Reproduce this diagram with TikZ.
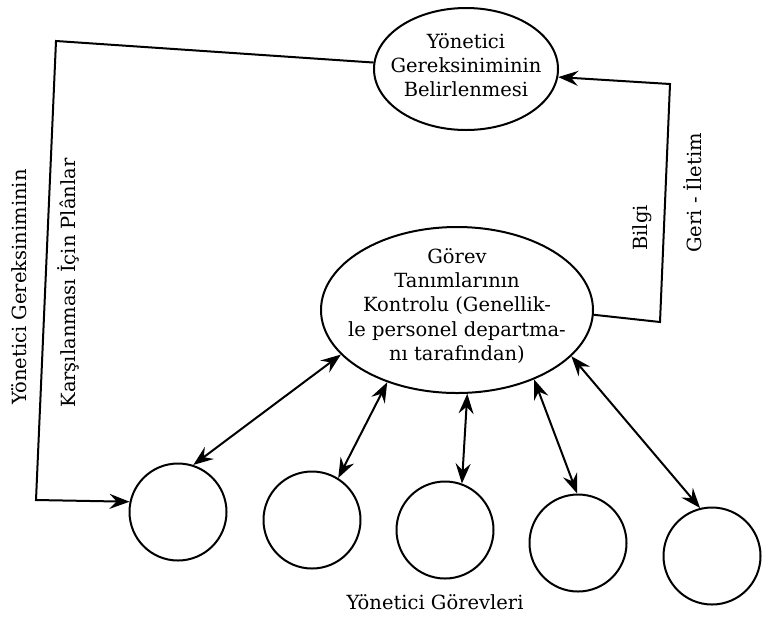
\documentclass[tikz,border=0pt]{standalone}
\usepackage{fontspec}
\setmainfont{DejaVu Serif}
\usetikzlibrary{shapes.geometric,arrows.meta}
\begin{document}
\begin{tikzpicture}[x=1pt,y=-1pt,
  ell/.style={draw,ellipse,line width=2pt,inner sep=0pt},
  ring/.style={draw,circle,line width=2pt,inner sep=0pt,minimum size=97pt},
  txt/.style={align=center,font=\fontsize{19.5}{24.3}\selectfont,inner sep=0pt},
  arr/.style={line width=2pt,-{Stealth[length=20pt,width=15pt,inset=7pt]}},
  darr/.style={line width=2pt,{Stealth[length=20pt,width=15pt,inset=7pt]}-{Stealth[length=20pt,width=15pt,inset=7pt]}}]
\useasboundingbox (0,0) rectangle (762,633);
% main ellipses
\node[ell,minimum width=184pt,minimum height=122pt] (top) at (466,69) {};
\node[txt] (toptext) at (466,65) {Yönetici\\Gereksiniminin\\Belirlenmesi};
\node[ell,minimum width=272pt,minimum height=166pt] (mid) at (457,310) {};
\node[txt] (midtext) at (457,306) {Görev\\Tanımlarının\\Kontrolu (Genellik-\\le personel departma-\\nı tarafından)};
% task circles
\node[ring] (c1) at (178,512) {};
\node[ring] (c2) at (312,520) {};
\node[ring] (c3) at (445,530) {};
\node[ring] (c4) at (578,543) {};
\node[ring] (c5) at (712,556) {};
\node[txt] (lbl) at (435,602) {Yönetici Görevleri};
% corners
\coordinate (tl) at (56,41);
\coordinate (bl) at (36,500);
\coordinate (br) at (660,322);
\coordinate (tr) at (670,84);
% left loop
\draw[arr] (top.176) -- (tl) -- (bl) -- (c1.168);
% right feedback loop
\draw[arr] (mid.-2) -- (br) -- (tr) -- (top.-5);
% double arrows
\draw[darr] (mid.201) -- (c1.72);
\draw[darr] (mid.226) -- (c2.58);
\draw[darr] (mid.277) -- (c3.70);
\draw[darr] (mid.318) -- (c4.91);
\draw[darr] (mid.338) -- (c5.104);
% side labels
\node[txt,rotate=90] (l1) at (19,287) {Yönetici Gereksiniminin};
\node[txt,rotate=90] (l2) at (68,283) {Karşılanması İçin Plânlar};
\node[txt,rotate=90] (r1) at (642,228) {Bilgi};
\node[txt,rotate=90] (r2) at (693,193) {Geri - İletim};
\end{tikzpicture}
\end{document}
